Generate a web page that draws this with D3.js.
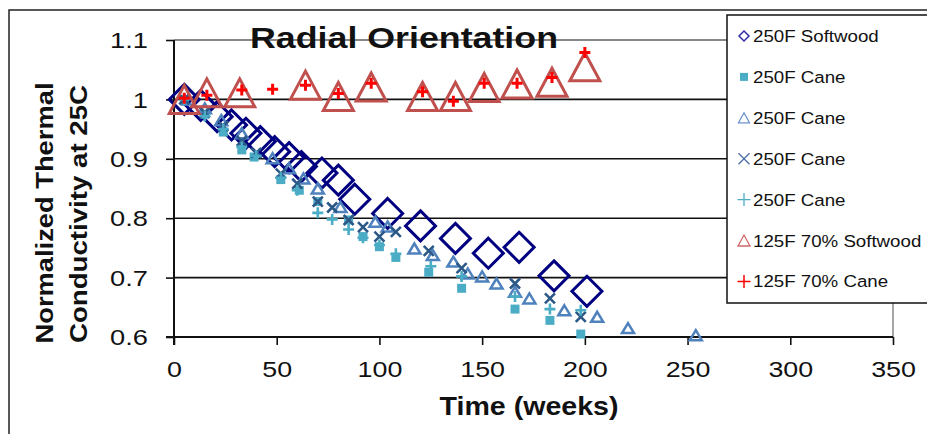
<!DOCTYPE html>
<html><head><meta charset="utf-8">
<script src="https://cdn.jsdelivr.net/npm/d3@7"></script>
<style>body{margin:0;background:#fff;}svg{display:block;font-family:"Liberation Sans",Arial,sans-serif;}</style>
</head><body><svg id="c" width="927" height="434"></svg>
<script>
// ---- data ----
const xTicks = [0, 50, 100, 150, 200, 250, 300, 350];
const yTicks = [0.6, 0.7, 0.8, 0.9, 1.0, 1.1];
const yTickLabels = ["0.6", "0.7", "0.8", "0.9", "1", "1.1"];

const swWeeks = [5, 13, 21, 28, 35, 42, 49, 56, 62, 72, 80, 88, 104, 120, 137, 153, 168, 185, 201];
const swValues = [1.0, 0.99, 0.971, 0.957, 0.943, 0.929, 0.912, 0.902, 0.887, 0.876, 0.864, 0.832, 0.808, 0.787, 0.766, 0.741, 0.751, 0.703, 0.677];

const caneSqWeeks = [5, 15, 24, 33, 39, 52, 61, 70, 85, 92, 100, 108, 124, 140, 166, 183, 198];
const caneSqValues = [1.0, 0.975, 0.945, 0.915, 0.903, 0.865, 0.847, 0.828, 0.797, 0.769, 0.752, 0.734, 0.709, 0.682, 0.647, 0.628, 0.605];

const caneTriWeeks = [7, 15, 23, 33, 48, 56, 63, 70, 81, 98, 104, 117, 126, 136, 143, 150, 157, 166, 173, 190, 206, 221, 254];
const caneTriValues = [1.0, 0.985, 0.965, 0.943, 0.901, 0.884, 0.867, 0.85, 0.819, 0.794, 0.786, 0.749, 0.738, 0.727, 0.707, 0.702, 0.69, 0.676, 0.665, 0.645, 0.634, 0.615, 0.603];

const caneXWeeks = [5, 15, 24, 33, 40, 52, 60, 70, 77, 85, 92, 100, 108, 124, 140, 166, 183, 198];
const caneXValues = [1.0, 0.978, 0.955, 0.93, 0.91, 0.875, 0.858, 0.828, 0.818, 0.797, 0.785, 0.769, 0.777, 0.745, 0.716, 0.69, 0.665, 0.634];

const canePlusWeeks = [5, 15, 24, 33, 40, 52, 60, 70, 77, 85, 92, 100, 108, 125, 140, 166, 183, 198];
const canePlusValues = [1.0, 0.972, 0.95, 0.92, 0.905, 0.868, 0.847, 0.809, 0.798, 0.781, 0.767, 0.755, 0.74, 0.719, 0.702, 0.668, 0.647, 0.645];

const sw70Weeks = [5, 16, 32, 64, 80, 96, 121, 137, 151, 167, 184, 200];
const sw70Values = [1.0, 1.011, 1.011, 1.024, 1.005, 1.021, 1.005, 1.005, 1.02, 1.026, 1.029, 1.055];

const cane70Weeks = [5, 16, 33, 48, 64, 80, 96, 121, 136, 151, 167, 184, 200];
const cane70Values = [1.002, 1.007, 1.016, 1.017, 1.024, 1.01, 1.027, 1.013, 0.997, 1.027, 1.027, 1.037, 1.079];

const legendLabels = ["250F Softwood", "250F Cane", "250F Cane", "250F Cane", "250F Cane", "125F 70% Softwood", "125F 70% Cane"];

// ---- layout ----
const svg = d3.select("#c");
const L = 174, R = 893, T = 40, B = 337;
const x = d3.scaleLinear().domain([0, 350]).range([L, R]);
const y = d3.scaleLinear().domain([0.6, 1.1]).range([B, T]);

// outer border
svg.append("rect").attr("x", 9).attr("y", 10).attr("width", 1000).attr("height", 1000)
  .attr("fill", "#fff").attr("stroke", "#222").attr("stroke-width", 1.5);

// gridlines
svg.append("g").selectAll("line").data(yTicks.filter(d => d > 0.6)).join("line")
  .attr("x1", L).attr("x2", R).attr("y1", d => y(d)).attr("y2", d => y(d))
  .attr("stroke", d => d >= 1.1 ? "#888" : "#111").attr("stroke-width", d => d >= 1.1 ? 2 : 1.6);
// plot right border
svg.append("line").attr("x1", R).attr("x2", R).attr("y1", T).attr("y2", B).attr("stroke", "#888").attr("stroke-width", 1.5);

// axes
const gy = svg.append("g").attr("transform", `translate(${L},0)`)
  .call(d3.axisLeft(y).tickValues(yTicks).tickSize(8).tickFormat((d, i) => yTickLabels[i]));
const gx = svg.append("g").attr("transform", `translate(0,${B})`)
  .call(d3.axisBottom(x).tickValues(xTicks).tickSize(8).tickFormat(d3.format("d")));
[gx, gy].forEach(g => {
  g.select(".domain").attr("stroke", "#111").attr("stroke-width", 2);
  g.selectAll(".tick line").attr("stroke", "#111").attr("stroke-width", 1.6);
  g.selectAll("text").attr("font-size", 22).attr("fill", "#111").attr("font-family", "Liberation Sans, Arial, sans-serif");
});
gy.select(".domain").attr("d", `M0,${T}V${B + 8}`);
gx.select(".domain").attr("d", `M${L - 8},0H${R}`);
gy.selectAll(".tick text").attr("x", -26 / 1.24).attr("dy", "0.35em").attr("transform", "scale(1.24,1)");
gx.selectAll(".tick text").attr("y", 40).attr("dy", 0).attr("transform", "scale(1.22,1)");

// ---- markers ----
const diamond = r => `M0,${-r}L${r},0L0,${r}L${-r},0Z`;
const tri = (w, h) => `M0,${-h / 2}L${w / 2},${h / 2}L${-w / 2},${h / 2}Z`;
const cross = r => `M${-r},${-r}L${r},${r}M${-r},${r}L${r},${-r}`;
const plus = r => `M${-r},0H${r}M0,${-r}V${r}`;
const sq = s => `M${-s / 2},${-s / 2}h${s}v${s}h${-s}Z`;

const series = [
  { w: swWeeks, v: swValues, path: diamond(15), fill: "none", stroke: "#000080", sw: 3, leg: diamond(5), lsw: 1.5, lstroke: "#3030A0" },
  { w: caneSqWeeks, v: caneSqValues, path: sq(9), fill: "#4BACC6", stroke: "none", sw: 0, leg: sq(8), lsw: 0 },
  { w: caneTriWeeks, v: caneTriValues, path: tri(12, 10), fill: "none", stroke: "#4F81BD", sw: 2.5, leg: tri(11, 10), lsw: 1.3, lstroke: "#6A92D0" },
  { w: caneXWeeks, v: caneXValues, path: cross(5), fill: "none", stroke: "#2C5887", sw: 2.6, leg: cross(5.5), lsw: 1.3, lstroke: "#4A6FA8" },
  { w: canePlusWeeks, v: canePlusValues, path: plus(5.5), fill: "none", stroke: "#4BACC6", sw: 2.6, leg: plus(6.5), lsw: 1.3 },
  { w: sw70Weeks, v: sw70Values, path: tri(30, 28), fill: "none", stroke: "#C0504D", sw: 3, leg: tri(12, 11), lsw: 1.3, lstroke: "#D06A68" },
  { w: cane70Weeks, v: cane70Values, path: plus(5.5), fill: "none", stroke: "#FF0000", sw: 3, leg: plus(6.5), lsw: 1.5 }
];

series.forEach(s => {
  svg.append("g").selectAll("path").data(s.w.map((w, i) => [w, s.v[i]])).join("path")
    .attr("transform", d => `translate(${x(d[0])},${y(d[1])})`)
    .attr("d", s.path).attr("fill", s.fill).attr("stroke", s.stroke)
    .attr("stroke-width", s.sw).attr("stroke-linejoin", "miter");
});

// ---- title ----
svg.append("text").attr("x", 250).attr("y", 48).attr("font-size", 29).attr("font-weight", "bold")
  .attr("fill", "#111").attr("textLength", 308).attr("lengthAdjust", "spacingAndGlyphs").text("Radial Orientation");

// axis titles
svg.append("text").attr("x", 529).attr("y", 415).attr("text-anchor", "middle").attr("font-size", 25)
  .attr("font-weight", "bold").attr("fill", "#111").attr("textLength", 179).attr("lengthAdjust", "spacingAndGlyphs")
  .text("Time  (weeks)");
svg.append("text").attr("transform", "translate(53,213) rotate(-90)").attr("text-anchor", "middle")
  .attr("font-size", 24).attr("font-weight", "bold").attr("fill", "#111")
  .attr("textLength", 261).attr("lengthAdjust", "spacingAndGlyphs").text("Normalized Thermal");
svg.append("text").attr("transform", "translate(87,214) rotate(-90)").attr("text-anchor", "middle")
  .attr("font-size", 24).attr("font-weight", "bold").attr("fill", "#111")
  .attr("textLength", 258).attr("lengthAdjust", "spacingAndGlyphs").text("Conductivity at 25C");

// ---- legend ----
svg.append("rect").attr("x", 727).attr("y", 15).attr("width", 300).attr("height", 288)
  .attr("fill", "#fff").attr("stroke", "#111").attr("stroke-width", 1.5);
const lg = svg.append("g").selectAll("g").data(series).join("g")
  .attr("transform", (d, i) => `translate(744,${36 + i * 40.9})`);
lg.append("path").attr("d", d => d.leg)
  .attr("fill", d => d.fill).attr("stroke", d => d.lstroke || d.stroke).attr("stroke-width", d => d.lsw);
lg.append("text").attr("x", 9 / 1.1).attr("y", 6).attr("font-size", 17).attr("fill", "#111")
  .attr("transform", "scale(1.1,1)").text((d, i) => legendLabels[i]);
</script></body></html>
